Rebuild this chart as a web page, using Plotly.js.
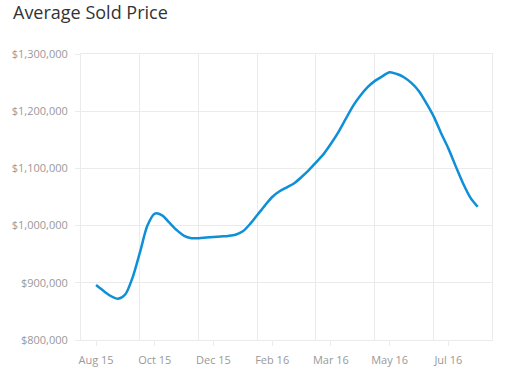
<!DOCTYPE html>
<html>
<head>
<meta charset="utf-8">
<script src="https://cdn.plot.ly/plotly-3.0.1.min.js"></script>
<style>
  html, body { margin: 0; padding: 0; background: #fff; }
  #chart { width: 505px; height: 373px; }
</style>
</head>
<body>
<div id="chart"></div>
<script>
// Weekly average sold price, Aug 2015 - Jul 2016 (53 weeks)
const weekIndex = [0,1,2,3,4,5,6,7,8,9,10,11,12,13,14,15,16,17,18,19,20,21,22,23,24,25,26,
  27,28,29,30,31,32,33,34,35,36,37,38,39,40,41,42,43,44,45,46,47,48,49,50,51,52];
const avgPrice = [896000, 886000, 877000, 872000, 880000, 910000, 954000, 1000000, 1021000,
  1018000, 1005000, 992000, 982000, 978000, 978000, 979000, 980000, 981000, 982000, 984000,
  990000, 1003000, 1019000, 1035000, 1050000, 1060000, 1067000, 1074000, 1085000, 1097000,
  1111000, 1125000, 1143000, 1163000, 1186000, 1209000, 1227000, 1242000, 1253000, 1261000,
  1268000, 1265000, 1259000, 1249000, 1235000, 1214000, 1191000, 1162000, 1135000, 1104000,
  1074000, 1049000, 1033000];
const tickPositions = [0, 8, 16, 24, 32, 40, 48];
const tickLabels = ["Aug 15", "Oct 15", "Dec 15", "Feb 16", "Mar 16", "May 16", "Jul 16"];
const gridBoundaries = [5.95, 13.95, 21.95, 29.95, 37.95, 45.95];
const yTicks = [800000, 900000, 1000000, 1100000, 1200000, 1300000];

const gridColor = "#ebebeb";
const labelFont = { family: "Open Sans, sans-serif", size: 11, color: "#999999" };
const xRange = [-2.05, 53.95];

const data = [
  {
    x: weekIndex,
    y: avgPrice,
    type: "scatter",
    mode: "lines",
    line: { color: "#0e8fd6", width: 2.5, shape: "spline", smoothing: 0.8 },
    hoverinfo: "skip"
  },
  {
    x: [], y: [], xaxis: "x2", type: "scatter", mode: "lines", hoverinfo: "skip"
  }
];

const layout = {
  width: 505,
  height: 373,
  margin: { l: 81, r: 13, t: 54, b: 33 },
  paper_bgcolor: "#ffffff",
  plot_bgcolor: "#ffffff",
  showlegend: false,
  title: {
    text: "Average Sold Price",
    font: { family: "Open Sans, sans-serif", size: 18, color: "#333333" },
    x: 13 / 505,
    xref: "container",
    xanchor: "left",
    y: 1 - 13 / 373,
    yref: "container",
    yanchor: "middle"
  },
  xaxis: {
    range: xRange,
    tickmode: "array",
    tickvals: tickPositions,
    ticktext: tickLabels,
    showgrid: false,
    zeroline: false,
    showline: true,
    mirror: true,
    linecolor: gridColor,
    linewidth: 1,
    ticks: "outside",
    ticklen: 5,
    tickcolor: gridColor,
    ticklabelstandoff: 5,
    tickfont: labelFont
  },
  xaxis2: {
    overlaying: "x",
    range: xRange,
    tickmode: "array",
    tickvals: gridBoundaries,
    showticklabels: false,
    ticks: "",
    showgrid: true,
    gridcolor: gridColor,
    zeroline: false,
    showline: false
  },
  yaxis: {
    range: [800000, 1300000],
    tickmode: "array",
    tickvals: yTicks,
    tickformat: "$,",
    showgrid: true,
    gridcolor: gridColor,
    zeroline: false,
    showline: true,
    mirror: true,
    linecolor: gridColor,
    ticks: "outside",
    ticklen: 5,
    tickcolor: gridColor,
    ticklabelstandoff: 5,
    tickfont: labelFont
  }
};

Plotly.newPlot("chart", data, layout, { displayModeBar: false, staticPlot: true });
</script>
</body>
</html>
